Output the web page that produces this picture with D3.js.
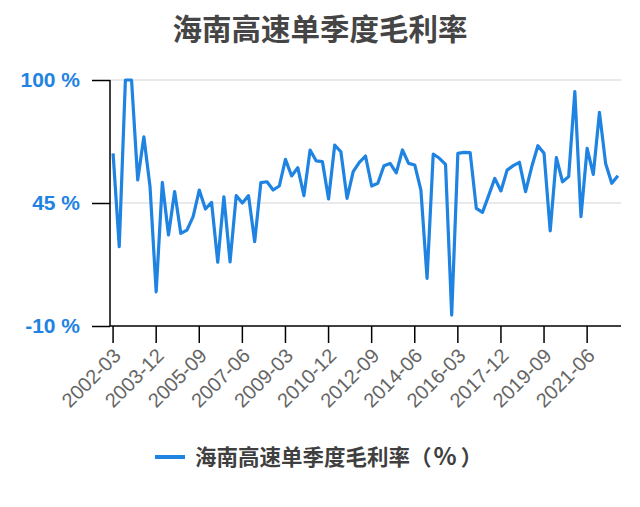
<!DOCTYPE html>
<html>
<head>
<meta charset="utf-8">
<script src="https://cdn.jsdelivr.net/npm/d3@7"></script>
<style>
  html, body { margin: 0; padding: 0; background: #fff; }
  svg { display: block; }
</style>
</head>
<body>
<svg id="chart" width="640" height="507"></svg>
<script>
const title = "海南高速单季度毛利率";
const seriesName = "海南高速单季度毛利率";
const seriesUnit = ["（", "%", "）"];

const quarters = [
  "2002-03","2002-06","2002-09","2002-12","2003-03","2003-06","2003-09","2003-12",
  "2004-03","2004-06","2004-09","2004-12","2005-03","2005-06","2005-09","2005-12",
  "2006-03","2006-06","2006-09","2006-12","2007-03","2007-06","2007-09","2007-12",
  "2008-03","2008-06","2008-09","2008-12","2009-03","2009-06","2009-09","2009-12",
  "2010-03","2010-06","2010-09","2010-12","2011-03","2011-06","2011-09","2011-12",
  "2012-03","2012-06","2012-09","2012-12","2013-03","2013-06","2013-09","2013-12",
  "2014-03","2014-06","2014-09","2014-12","2015-03","2015-06","2015-09","2015-12",
  "2016-03","2016-06","2016-09","2016-12","2017-03","2017-06","2017-09","2017-12",
  "2018-03","2018-06","2018-09","2018-12","2019-03","2019-06","2019-09","2019-12",
  "2020-03","2020-06","2020-09","2020-12","2021-03","2021-06","2021-09","2021-12",
  "2022-03","2022-06","2022-09"
];

const grossMargin = [
  67.2, 25.5, 100, 100, 55.3, 74.6, 52.3, 5.3, 54.2, 30.7,
  50.1, 31.4, 32.9, 38.9, 50.8, 42.3, 45.3, 18.5, 47.8, 18.7,
  48.3, 45.0, 48.3, 27.7, 54.1, 54.5, 50.8, 52.6, 64.5, 57.1,
  60.8, 48.3, 68.7, 63.8, 63.5, 46.8, 70.9, 67.9, 47.1, 59.0,
  63.2, 66.0, 52.6, 53.8, 61.7, 62.7, 58.5, 68.7, 62.7, 62.0,
  50.8, 11.3, 66.9, 65.0, 62.3, -5.1, 67.2, 67.6, 67.5, 42.6,
  40.8, 48.3, 56.0, 50.4, 59.7, 61.7, 63.2, 50.1, 61.2, 70.6,
  67.2, 32.5, 65.3, 54.5, 56.8, 94.8, 38.9, 69.4, 57.8, 85.5,
  62.7, 53.8, 57.2
];

const xTickLabels = ["2002-03","2003-12","2005-09","2007-06","2009-03","2010-12",
                     "2012-09","2014-06","2016-03","2017-12","2019-09","2021-06"];
const yTickValues = [-10, 45, 100];

const blue = "#1f83e2";
const svg = d3.select("#chart");

const plotL = 110, plotR = 621, plotT = 80, plotB = 326;

const x = d3.scaleBand().domain(quarters).range([plotL, plotR]).padding(0);
const y = d3.scaleLinear().domain([-10, 100]).range([plotB, plotT]);

// title
svg.append("text")
  .attr("x", 320).attr("y", 40)
  .attr("text-anchor", "middle")
  .attr("font-family", "'Noto Sans CJK SC', sans-serif")
  .attr("font-weight", "bold")
  .attr("font-size", 29.5)
  .attr("fill", "#454545")
  .text(title);

// grid lines
svg.append("g").selectAll("line")
  .data(yTickValues.filter(v => v !== -10))
  .join("line")
  .attr("x1", plotL).attr("x2", plotR)
  .attr("y1", d => y(d)).attr("y2", d => y(d))
  .attr("stroke", "#e3e3e3").attr("stroke-width", 1.5);

// y axis
const yAxis = svg.append("g")
  .attr("transform", `translate(${plotL},0)`)
  .call(d3.axisLeft(y).tickValues(yTickValues).tickSize(18).tickPadding(12)
        .tickFormat(d => d + " %"));
yAxis.select(".domain").attr("stroke", "#000").attr("stroke-width", 1.5)
  .attr("d", `M0,${plotT}V${plotB}`);
yAxis.selectAll(".tick line").attr("stroke", "#000").attr("stroke-width", 1.5);
yAxis.selectAll(".tick text")
  .attr("fill", blue)
  .attr("font-family", "'Liberation Sans', Arial, sans-serif")
  .attr("font-weight", "bold")
  .attr("font-size", 21);

// x axis
const xAxis = svg.append("g")
  .attr("transform", `translate(0,${plotB})`)
  .call(d3.axisBottom(x).tickValues(xTickLabels).tickSize(17).tickPadding(4));
xAxis.select(".domain").attr("stroke", "#000").attr("stroke-width", 1.5)
  .attr("d", `M${plotL},0H${plotR}`);
xAxis.selectAll(".tick line").attr("stroke", "#000").attr("stroke-width", 1.5);
xAxis.selectAll(".tick text")
  .attr("fill", "#666")
  .attr("font-family", "'Liberation Sans', Arial, sans-serif")
  .attr("font-size", 20)
  .attr("text-anchor", "end")
  .attr("x", 0).attr("y", 0)
  .attr("dy", "0.35em")
  .attr("transform", "translate(4,26) rotate(-45)");

// line
const line = d3.line()
  .x((d, i) => x(quarters[i]) + x.bandwidth() / 2)
  .y(d => y(Math.min(d, 100)));

svg.append("path")
  .datum(grossMargin)
  .attr("fill", "none")
  .attr("stroke", blue)
  .attr("stroke-width", 3.2)
  .attr("stroke-linejoin", "round")
  .attr("d", line);

// legend
const lg = svg.append("g");
lg.append("line")
  .attr("x1", 155).attr("x2", 185).attr("y1", 457).attr("y2", 457)
  .attr("stroke", blue).attr("stroke-width", 4);
const lt = lg.append("text")
  .attr("x", 195).attr("y", 465)
  .attr("font-family", "'Noto Sans CJK SC', sans-serif")
  .attr("font-weight", "bold")
  .attr("font-size", 21.5)
  .attr("fill", "#3f3f3f");
lt.append("tspan").text(seriesName);
lt.append("tspan").text(seriesUnit[0]);
lt.append("tspan").attr("dx", 2).attr("font-size", 24).text(seriesUnit[1]);
lt.append("tspan").attr("dx", 4).text(seriesUnit[2]);
</script>
</body>
</html>
